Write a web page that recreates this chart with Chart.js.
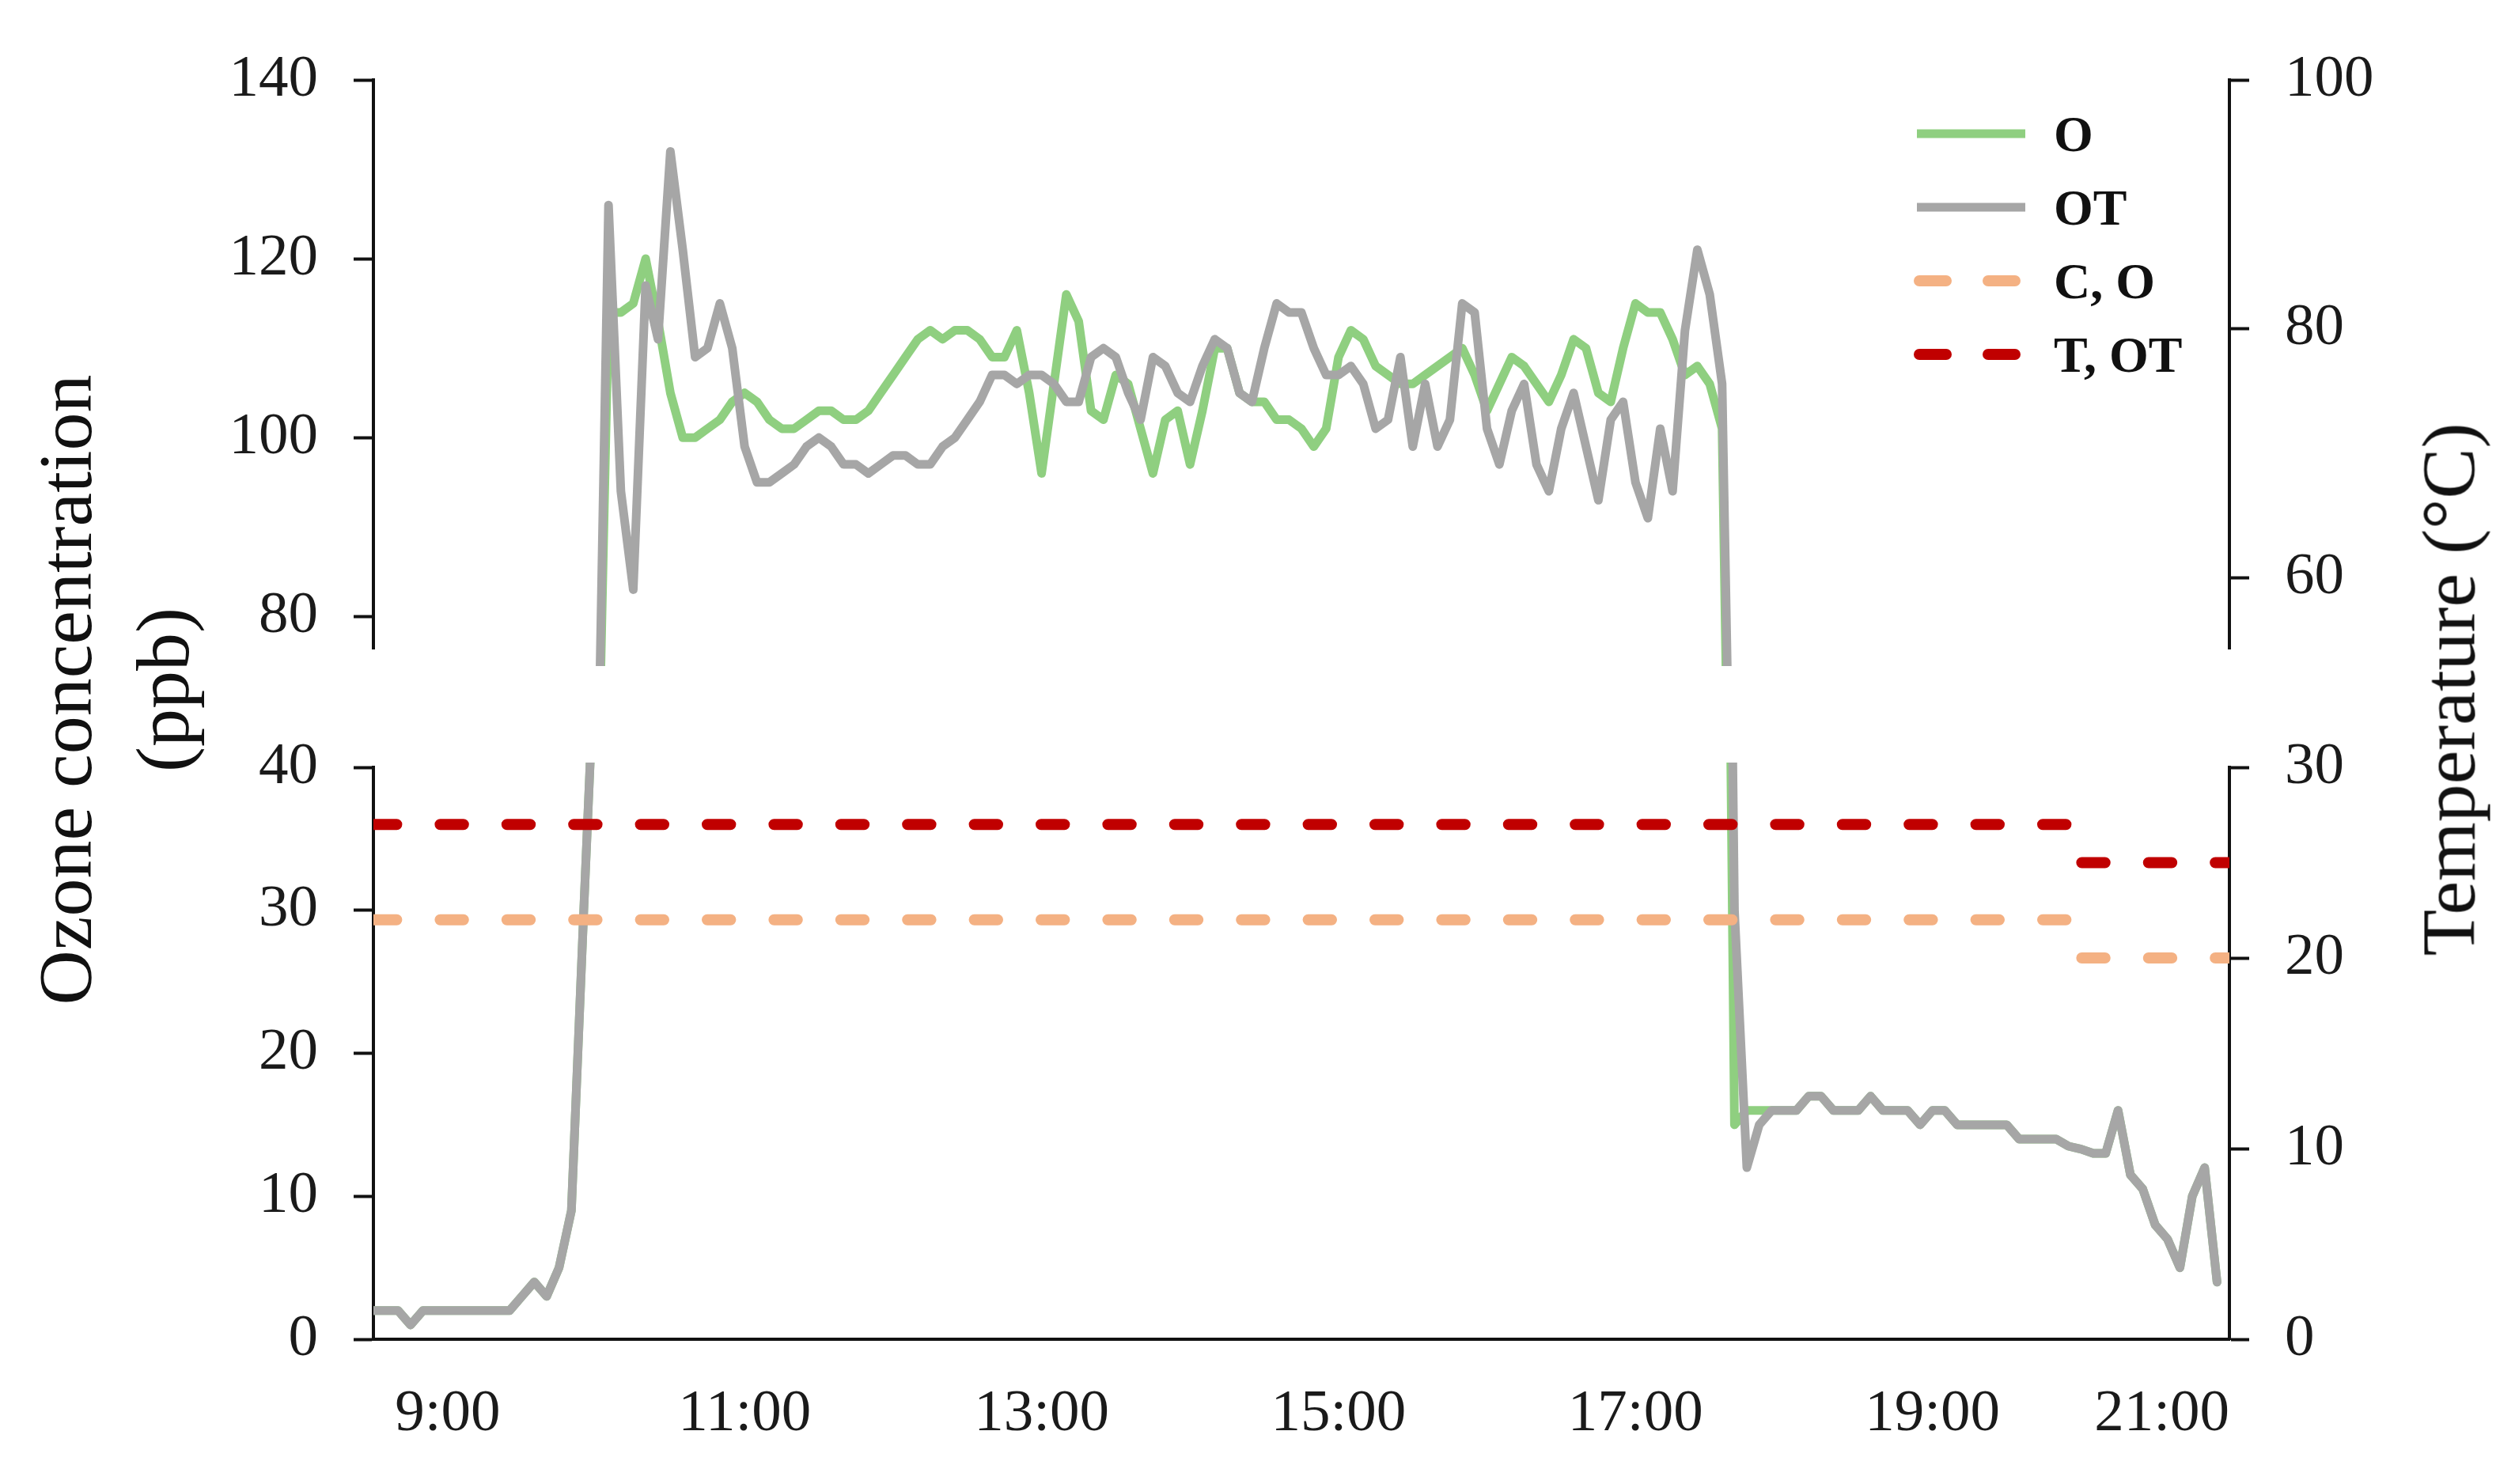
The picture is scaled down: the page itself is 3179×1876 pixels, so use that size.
<!DOCTYPE html>
<html>
<head>
<meta charset="utf-8">
<title>Ozone concentration and temperature</title>
<script src="https://cdn.jsdelivr.net/npm/chart.js@4.4.0/dist/chart.umd.min.js"></script>
<style>
  html, body { margin: 0; padding: 0; background: #fff; }
  body { width: 3179px; height: 1876px; position: relative; overflow: hidden;
         font-family: 'Liberation Serif', 'Times New Roman', serif; color: #111; }
  canvas { position: absolute; left: 0; }
  #topChart { top: 0; }
  #bottomChart { top: 880px; }
  .ytitle { position: absolute; font-size: 96px; line-height: 123px; text-align: center;
            white-space: nowrap; transform: rotate(-90deg); transform-origin: 50% 50%; }
  #legend { position: absolute; left: 2418px; top: 123px; }
  .legend-row { height: 93px; display: flex; align-items: center; }
  .legend-row svg { width: 178px; height: 93px; flex: none; }
  .legend-row span { font-weight: bold; font-size: 64px; line-height: 93px; }
</style>
</head>
<body>
<canvas id="topChart" width="3179" height="930"></canvas>
<canvas id="bottomChart" width="3179" height="996"></canvas>

<div class="ytitle" style="left:-306px; top:749px; width:900px; height:246px;">Ozone concentration<br>(ppb)</div>
<div class="ytitle" style="left:2645px; top:810px; width:900px; height:123px;">Temperature (°C)</div>

<div id="legend"></div>

<script>
// time axis: one reading every 5 minutes from 8:30
const startTime = '8:30';
const stepMinutes = 5;

// ozone, ppb (one row = one hour, starting 8:30)
const ozoneO = [
  2, 2, 2, 1, 2, 2, 2, 2, 2, 2, 2, 2,
  3, 4, 3, 5, 9, 30, 50, 114, 114, 115, 120, 113,
  105, 100, 100, 101, 102, 104, 105, 104, 102, 101, 101, 102,
  103, 103, 102, 102, 103, 105, 107, 109, 111, 112, 111, 112,
  112, 111, 109, 109, 112, 105, 96, 106, 116, 113, 103, 102,
  107, 106, 101, 96, 102, 103, 97, 103, 110, 110, 105, 104,
  104, 102, 102, 101, 99, 101, 109, 112, 111, 108, 107, 106,
  106, 107, 108, 109, 110, 107, 103, 106, 109, 108, 106, 104,
  107, 111, 110, 105, 104, 110, 115, 114, 114, 111, 107, 108,
  106, 101, 15, 16, 16, 16, 16, 16, 17, 17, 16, 16,
  16, 17, 16, 16, 16, 15, 16, 16, 15, 15, 15, 15,
  15, 14, 14, 14, 14, 13.5, 13.3, 13, 13, 16, 11.5, 10.5,
  8, 7, 5, 10, 12, 4
];
const ozoneOT = [
  2, 2, 2, 1, 2, 2, 2, 2, 2, 2, 2, 2,
  3, 4, 3, 5, 9, 30, 50, 126, 94, 83, 117, 111,
  132, 121, 109, 110, 115, 110, 99, 95, 95, 96, 97, 99,
  100, 99, 97, 97, 96, 97, 98, 98, 97, 97, 99, 100,
  102, 104, 107, 107, 106, 107, 107, 106, 104, 104, 109, 110,
  109, 105, 102, 109, 108, 105, 104, 108, 111, 110, 105, 104,
  110, 115, 114, 114, 110, 107, 107, 108, 106, 101, 102, 109,
  99, 106, 99, 102, 115, 114, 101, 97, 103, 106, 97, 94,
  101, 105, 99, 93, 102, 104, 95, 91, 101, 94, 112, 121,
  116, 106, 30, 12, 15, 16, 16, 16, 17, 17, 16, 16,
  16, 17, 16, 16, 16, 15, 16, 16, 15, 15, 15, 15,
  15, 14, 14, 14, 14, 13.5, 13.3, 13, 13, 16, 11.5, 10.5,
  8, 7, 5, 10, 12, 4
];

// set temperatures, °C
const tempTimes = ['8:30', '19:55', '20:00', '21:00'];
const tempCO = [22, 22, 20, 20];
const tempTOT = [27, 27, 25, 25];

// axes
const xTickLabels = ['9:00', '11:00', '13:00', '15:00', '17:00', '19:00', '21:00'];
const ozoneTopTicks = [80, 100, 120, 140];
const ozoneBottomTicks = [0, 10, 20, 30, 40];
const tempTopTicks = [60, 80, 100];
const tempBottomTicks = [0, 10, 20, 30];

const toHour = s => { const [h, m] = s.split(':').map(Number); return h + m / 60; };
const xMin = toHour(startTime);
const xMax = 21;
const xTickHours = xTickLabels.map(toHour);
const ozonePoints = arr => arr.map((v, i) => ({ x: xMin + i * stepMinutes / 60, y: v }));
const tempPoints = arr => arr.map((v, i) => ({ x: toHour(tempTimes[i]), y: v }));

const GREEN = '#8fcf80', GREY = '#a6a6a6', ORANGE = '#f4b183', RED = '#c00000';
const AXIS = '#111';
const tickFont = { family: "'Liberation Serif', 'Times New Roman', serif", size: 75 };
const DASH = [29.4, 55];

function yAxis(position, min, max, ticks, width) {
  return {
    type: 'linear', position, min, max,
    afterBuildTicks: s => { s.ticks = ticks.map(v => ({ value: v })); },
    afterFit: s => { s.width = width; },
    ticks: { font: tickFont, color: '#1a1a1a', padding: 45 },
    grid: { drawOnChartArea: false, drawTicks: true, tickLength: 25, tickWidth: 4, tickColor: AXIS },
    border: { display: true, color: AXIS, width: 4 }
  };
}

function ozoneSets(clip) {
  return [
    { label: 'O', data: ozonePoints(ozoneO), borderColor: GREEN, borderWidth: 11, order: 3,
      pointRadius: 0, borderJoinStyle: 'round', borderCapStyle: 'round', yAxisID: 'yO', clip },
    { label: 'OT', data: ozonePoints(ozoneOT), borderColor: GREY, borderWidth: 11, order: 2,
      pointRadius: 0, borderJoinStyle: 'round', borderCapStyle: 'round', yAxisID: 'yO', clip }
  ];
}

const common = {
  responsive: false,
  animation: false,
  events: [],
  plugins: { legend: { display: false }, tooltip: { enabled: false } }
};

// upper part of the broken axis (plot area 101..820 px)
new Chart(document.getElementById('topChart'), {
  type: 'line',
  data: { datasets: ozoneSets({ left: 0, top: 0, right: 0, bottom: 22 }) },
  options: {
    ...common,
    layout: { padding: { top: 101, bottom: 110, left: 0, right: 0 } },
    scales: {
      x: { type: 'linear', min: xMin, max: xMax, display: false },
      yO: yAxis('left', 76.4, 140, ozoneTopTicks, 472),
      yT: yAxis('right', 54.3, 100, tempTopTicks, 361)
    }
  }
});

// lower part of the broken axis (plot area 969..1693 px)
new Chart(document.getElementById('bottomChart'), {
  type: 'line',
  data: {
    datasets: ozoneSets({ left: 0, top: 6, right: 0, bottom: 0 }).concat([
      { label: 'C, O', data: tempPoints(tempCO), borderColor: ORANGE, borderWidth: 14, order: 1,
        borderDash: DASH, borderCapStyle: 'round', pointRadius: 0, yAxisID: 'yT' },
      { label: 'T, OT', data: tempPoints(tempTOT), borderColor: RED, borderWidth: 14, order: 0,
        borderDash: DASH, borderCapStyle: 'round', pointRadius: 0, yAxisID: 'yT' }
    ])
  },
  options: {
    ...common,
    layout: { padding: { top: 89, bottom: 0, left: 0, right: 0 } },
    scales: {
      x: {
        type: 'linear', min: xMin, max: xMax,
        afterBuildTicks: s => { s.ticks = [{ value: xMin }].concat(xTickHours.map(v => ({ value: v }))); },
        afterFit: s => { s.height = 183; },
        ticks: { font: tickFont, color: '#1a1a1a', padding: 50, align: 'inner', autoSkip: false,
                 maxRotation: 0, callback: (v, i) => i === 0 ? '' : xTickLabels[i - 1] },
        grid: { display: false, drawTicks: false },
        border: { display: true, color: AXIS, width: 4 }
      },
      yO: yAxis('left', 0, 40, ozoneBottomTicks, 472),
      yT: yAxis('right', 0, 30, tempBottomTicks, 361)
    }
  }
});

// legend (top right of the upper panel)
const legendItems = [
  { text: 'O', color: GREEN, width: 11, dash: null },
  { text: 'OT', color: GREY, width: 11, dash: null },
  { text: 'C, O', color: ORANGE, width: 14, dash: '34 53' },
  { text: 'T, OT', color: RED, width: 14, dash: '34 53' }
];
document.getElementById('legend').innerHTML = legendItems.map(it => {
  const line = it.dash
    ? `<line x1="8" y1="46" x2="129" y2="46" stroke="${it.color}" stroke-width="${it.width}" stroke-dasharray="${it.dash}" stroke-linecap="round"/>`
    : `<line x1="5" y1="46" x2="142" y2="46" stroke="${it.color}" stroke-width="${it.width}"/>`;
  return `<div class="legend-row"><svg viewBox="0 0 178 93">${line}</svg><span>${it.text}</span></div>`;
}).join('');
</script>
</body>
</html>
